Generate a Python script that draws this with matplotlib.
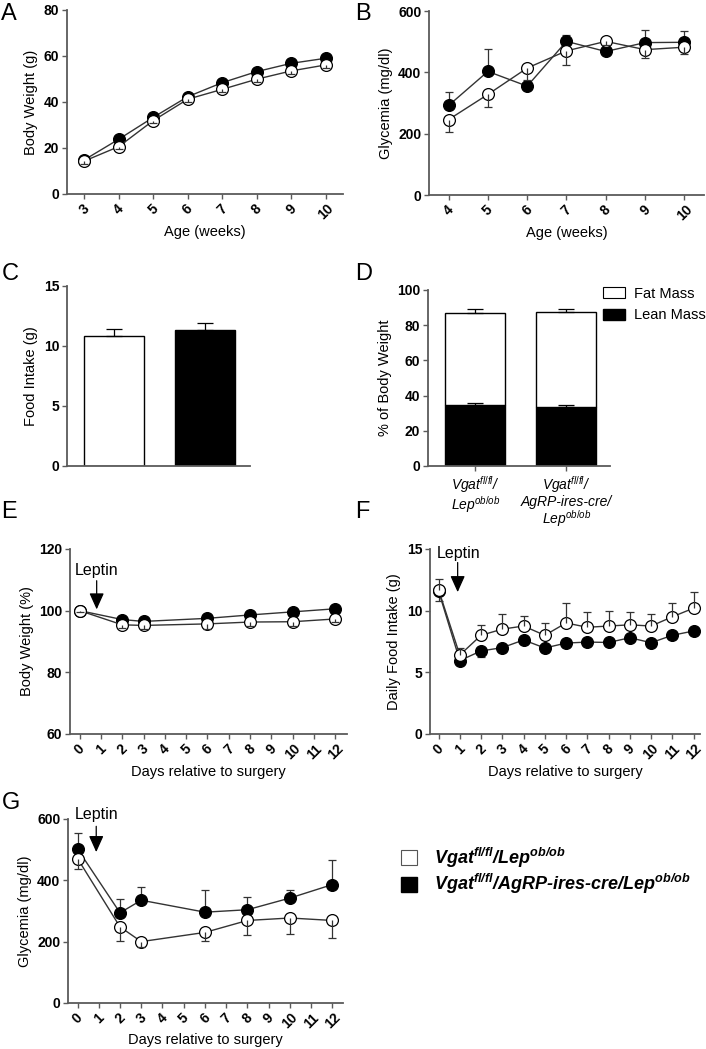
import numpy as np
import matplotlib
matplotlib.use("Agg")
import matplotlib.pyplot as plt
from matplotlib.patches import Patch

plt.rcParams['font.family'] = ['Liberation Sans', 'DejaVu Sans']
plt.rcParams['mathtext.fontset'] = 'custom'
plt.rcParams['mathtext.rm'] = 'Liberation Sans'
plt.rcParams['mathtext.it'] = 'Liberation Sans:italic'
plt.rcParams['mathtext.bf'] = 'Liberation Sans:bold'
plt.rcParams['mathtext.bfit'] = 'Liberation Sans:italic:bold'

# --- Data ---
# A: body weight by age
weeks_a = [3, 4, 5, 6, 7, 8, 9, 10]
bw_open = [14.3, 20.6, 31.9, 41.2, 45.5, 49.9, 53.5, 56.1]
bw_open_err = [1.2, 1.2, 1.2, 1.2, 1.2, 1.2, 1.2, 1.2]
bw_filled = [14.8, 23.8, 33.3, 42.3, 48.4, 53.2, 56.8, 59.0]
bw_filled_err = [0.8, 0.8, 0.8, 0.8, 0.8, 0.8, 0.8, 0.8]

# B: glycemia by age
weeks_b = [4, 5, 6, 7, 8, 9, 10]
gly_open = [246, 328, 414, 470, 501, 474, 482]
gly_open_err = [40, 42, 38, 45, 12, 28, 22]
gly_filled = [292, 403, 355, 501, 468, 497, 498]
gly_filled_err = [45, 74, 10, 21, 8, 41, 37]

# C: food intake
intake = [10.8, 11.3]
intake_err = [0.65, 0.65]

# D: body composition
lean = [34.8, 33.3]
lean_err = [0.7, 1.2]
fat = [52.2, 54.3]
total_err = [1.9, 1.7]
groups_d = ["Vgat$^{fl/fl}$/\nLep$^{ob/ob}$",
            "Vgat$^{fl/fl}$/\nAgRP-ires-cre/\nLep$^{ob/ob}$"]

# E: body weight after surgery
days_e = [0, 2, 3, 6, 8, 10, 12]
e_open = [100, 95.4, 95.2, 95.7, 96.3, 96.4, 97.3]
e_open_err = [0.5, 1.0, 1.2, 1.5, 1.2, 1.5, 1.0]
e_filled = [100, 97.1, 96.5, 97.5, 98.6, 99.6, 100.6]
e_filled_err = [0.5, 0.5, 0.5, 0.5, 0.5, 0.5, 0.5]

# F: daily food intake after surgery
days_f = [0, 1, 2, 3, 4, 5, 6, 7, 8, 9, 10, 11, 12]
f_open = [11.7, 6.4, 8.0, 8.5, 8.75, 8.0, 9.0, 8.65, 8.75, 8.85, 8.75, 9.5, 10.2]
f_open_err = [0.9, 0.6, 0.8, 1.2, 0.8, 1.0, 1.6, 1.2, 1.2, 1.0, 1.0, 1.15, 1.35]
f_filled = [11.6, 5.95, 6.73, 7.0, 7.62, 6.97, 7.37, 7.45, 7.42, 7.8, 7.4, 8.0, 8.35]
f_filled_err = [0.8, 0.3, 0.5, 0.3, 0.3, 0.3, 0.3, 0.3, 0.3, 0.3, 0.3, 0.3, 0.3]

# G: glycemia after surgery
days_g = [0, 2, 3, 6, 8, 10, 12]
g_open = [471, 248, 200, 230, 269, 277, 269]
g_open_err = [35, 45, 19, 27, 49, 51, 58]
g_filled = [502, 294, 335, 296, 304, 342, 386]
g_filled_err = [52, 46, 44, 73, 42, 25, 79]

legend_labels = ["Vgat$^{\\mathbfit{fl/fl}}$/Lep$^{\\mathbfit{ob/ob}}$",
                 "Vgat$^{\\mathbfit{fl/fl}}$/AgRP-ires-cre/Lep$^{\\mathbfit{ob/ob}}$"]

AXC = '#5a5a5a'
LC = '#333333'


def style(ax):
    for s in ['top', 'right']:
        ax.spines[s].set_visible(False)
    for s in ['left', 'bottom']:
        ax.spines[s].set_color(AXC)
        ax.spines[s].set_linewidth(1.3)
    ax.tick_params(length=3.5, width=1, color=AXC, labelsize=10, pad=2)


def yticks(ax, ticks):
    ax.set_yticks(ticks)
    ax.set_yticklabels([str(t) for t in ticks], fontweight='bold', fontsize=10)


def xticks_rot(ax, ticks):
    ax.set_xticks(ticks)
    ax.set_xticklabels([str(t) for t in ticks], rotation=45, fontweight='bold',
                       fontsize=10)


def series(ax, x, y, err, sign, filled):
    x = np.asarray(x)
    y = np.asarray(y, dtype=float)
    ends = y + sign * np.asarray(err)
    z = 3 if filled else 4
    ax.plot(x, y, color=LC, lw=1, marker='o', ms=8.5,
            mfc='black' if filled else 'white', mec='black', mew=0.9,
            zorder=z, clip_on=False)
    ez = 2.5 if filled else 4.5
    ax.vlines(x, y, ends, color=LC, lw=0.9, zorder=ez)
    ax.plot(x, ends, ls='none', marker='_', ms=6, mew=0.9, color=LC, zorder=ez)


def leptin(ax, tx, ty, ax_x, y0, y1):
    ax.text(tx, ty, "Leptin", fontsize=11.5, ha='left', va='baseline')
    ax.annotate('', xy=(ax_x, y1), xytext=(ax_x, y0),
                arrowprops=dict(arrowstyle='-|>,head_width=0.45,head_length=1.0',
                                color='black', lw=0.9, shrinkA=0, shrinkB=0))


fig = plt.figure(figsize=(7.06, 10.49), dpi=100)

# --- A ---
axA = fig.add_axes([0.0949, 0.8151, 0.3909, 0.1754])
series(axA, weeks_a, bw_filled, bw_filled_err, 1, True)
series(axA, weeks_a, bw_open, bw_open_err, -1, False)
axA.set_xlim(2.5, 10.5)
axA.set_ylim(0, 80)
yticks(axA, [0, 20, 40, 60, 80])
xticks_rot(axA, weeks_a)
axA.set_xlabel("Age (weeks)", fontsize=10.5, labelpad=2)
axA.set_ylabel("Body Weight (g)", fontsize=10.5)
style(axA)

# --- B ---
axB = fig.add_axes([0.6076, 0.8141, 0.3895, 0.1754])
series(axB, weeks_b, gly_filled, gly_filled_err, 1, True)
series(axB, weeks_b, gly_open, gly_open_err, -1, False)
axB.set_xlim(3.5, 10.5)
axB.set_ylim(0, 600)
yticks(axB, [0, 200, 400, 600])
xticks_rot(axB, weeks_b)
axB.set_xlabel("Age (weeks)", fontsize=10.5, labelpad=2)
axB.set_ylabel("Glycemia (mg/dl)", fontsize=10.5)
style(axB)

# --- C ---
axC = fig.add_axes([0.0949, 0.5558, 0.2592, 0.1716])
xc = np.arange(len(intake))
axC.bar(xc, intake, width=0.66, color=['white', 'black'], edgecolor='black', lw=1)
axC.errorbar(xc, intake, yerr=[[0, 0], intake_err], fmt='none', ecolor='black',
             elinewidth=0.9, capsize=6, capthick=0.9)
axC.set_xlim(-0.52, 1.5)
axC.set_ylim(0, 15)
yticks(axC, [0, 5, 10, 15])
axC.set_xticks([])
axC.set_ylabel("Food Intake (g)", fontsize=10.5)
style(axC)

# --- D ---
axD = fig.add_axes([0.6062, 0.5558, 0.2578, 0.1678])
xd = np.arange(len(lean))
total = np.array(lean) + np.array(fat)
axD.bar(xd, lean, width=0.66, color='black', edgecolor='black', lw=1)
axD.bar(xd, fat, bottom=lean, width=0.66, color='white', edgecolor='black', lw=1)
axD.errorbar(xd, lean, yerr=[[0, 0], lean_err], fmt='none', ecolor='black',
             elinewidth=0.9, capsize=6, capthick=0.9)
axD.errorbar(xd, total, yerr=[[0, 0], total_err], fmt='none', ecolor='black',
             elinewidth=0.9, capsize=6, capthick=0.9)
axD.set_xlim(-0.52, 1.48)
axD.set_ylim(0, 100)
yticks(axD, [0, 20, 40, 60, 80, 100])
axD.set_xticks(xd)
axD.set_xticklabels(groups_d, fontstyle='italic', fontsize=10.5, linespacing=1.0)
axD.tick_params(axis='x', length=0)
axD.set_ylabel("% of Body Weight", fontsize=10.5)
style(axD)
axD.legend([Patch(facecolor='white', edgecolor='black', lw=0.8),
            Patch(facecolor='black', edgecolor='black')],
           ["Fat Mass", "Lean Mass"], loc='upper left', bbox_to_anchor=(0.93, 1.05),
           frameon=False, fontsize=10.5, handlelength=1.5, handleheight=0.8,
           handletextpad=0.6, labelspacing=0.5, borderaxespad=0)

# --- E ---
days_all = list(range(13))
axE = fig.add_axes([0.0992, 0.3003, 0.3924, 0.1764])
series(axE, days_e, e_filled, e_filled_err, 1, True)
series(axE, days_e, e_open, e_open_err, -1, False)
axE.set_xlim(-0.45, 12.55)
axE.set_ylim(60, 120)
yticks(axE, [60, 80, 100, 120])
xticks_rot(axE, days_all)
axE.set_xlabel("Days relative to surgery", fontsize=10.5, labelpad=2)
axE.set_ylabel("Body Weight (%)", fontsize=10.5)
leptin(axE, -0.25, 111.5, 0.8, 109.7, 100.4)
style(axE)

# --- F ---
axF = fig.add_axes([0.6091, 0.3003, 0.3824, 0.1764])
series(axF, days_f, f_filled, f_filled_err, -1, True)
series(axF, days_f, f_open, f_open_err, 1, False)
axF.set_xlim(-0.4, 12.3)
axF.set_ylim(0, 15)
yticks(axF, [0, 5, 10, 15])
xticks_rot(axF, days_all)
axF.set_xlabel("Days relative to surgery", fontsize=10.5, labelpad=2)
axF.set_ylabel("Daily Food Intake (g)", fontsize=10.5)
leptin(axF, -0.1, 14.3, 0.9, 13.9, 11.5)
style(axF)

# --- G ---
axG = fig.add_axes([0.0963, 0.0439, 0.3895, 0.1754])
series(axG, days_g, g_filled, g_filled_err, 1, True)
series(axG, days_g, g_open, g_open_err, -1, False)
axG.set_xlim(-0.45, 12.5)
axG.set_ylim(0, 600)
yticks(axG, [0, 200, 400, 600])
xticks_rot(axG, days_all)
axG.set_xlabel("Days relative to surgery", fontsize=10.5, labelpad=1)
axG.set_ylabel("Glycemia (mg/dl)", fontsize=10.5)
leptin(axG, -0.15, 600, 0.88, 576, 492)
style(axG)

# group legend
fig.legend([Patch(facecolor='white', edgecolor='#555555', lw=0.8),
            Patch(facecolor='black', edgecolor='black')],
           legend_labels, loc='upper left', bbox_to_anchor=(0.545, 0.209),
           frameon=False, prop=dict(family='Liberation Sans', style='italic',
                                    weight='bold', size=13),
           handlelength=0.9, handleheight=0.9, handletextpad=0.9, labelspacing=0.12)

# panel letters
for lbl, x, y in [("A", 0.002, 0.997), ("B", 0.503, 0.997), ("C", 0.002, 0.749),
                  ("D", 0.503, 0.749), ("E", 0.002, 0.522), ("F", 0.503, 0.522),
                  ("G", 0.002, 0.245)]:
    fig.text(x, y, lbl, fontsize=17, ha='left', va='top')

fig.savefig("out.png", dpi=100)
